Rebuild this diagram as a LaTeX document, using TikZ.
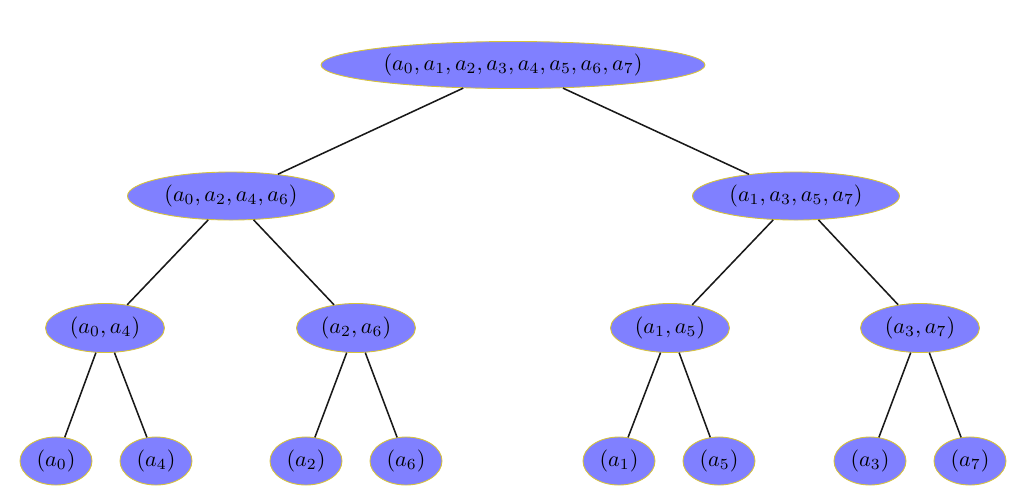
\documentclass[tikz,border=0pt]{standalone}
\usetikzlibrary{shapes.geometric}
\begin{document}
\begin{tikzpicture}[x=0.0159cm,y=-0.0159cm,
  nd/.style={ellipse,fill={rgb,255:red,128;green,128;blue,255},draw={rgb,255:red,215;green,195;blue,60},line width=0.4pt,inner sep=0pt,font=\normalsize},
  l0/.style={nd,minimum width=384*0.0159cm,minimum height=47*0.0159cm},
  l1/.style={nd,minimum width=207*0.0159cm,minimum height=48*0.0159cm},
  l2/.style={nd,minimum width=119*0.0159cm,minimum height=49*0.0159cm},
  l3/.style={nd,minimum width=72*0.0159cm,minimum height=48*0.0159cm},
  edge/.style={draw=black!90,line width=0.7pt}]
\useasboundingbox (0,0) rectangle (1013,488);
\node[l0] (r) at (513,65) {$(a_0,a_1,a_2,a_3,a_4,a_5,a_6,a_7)$};
\node[l1] (L) at (231,196) {$(a_0,a_2,a_4,a_6)$};
\node[l1] (R) at (796,196) {$(a_1,a_3,a_5,a_7)$};
\node[l2] (LL) at (105,328) {$(a_0,a_4)$};
\node[l2] (LR) at (356,328) {$(a_2,a_6)$};
\node[l2] (RL) at (670,328) {$(a_1,a_5)$};
\node[l2] (RR) at (920,328) {$(a_3,a_7)$};
\node[l3] (n0) at (56,461) {$(a_0)$};
\node[l3] (n4) at (156,461) {$(a_4)$};
\node[l3] (n2) at (306,461) {$(a_2)$};
\node[l3] (n6) at (406,461) {$(a_6)$};
\node[l3] (n1) at (619,461) {$(a_1)$};
\node[l3] (n5) at (719,461) {$(a_5)$};
\node[l3] (n3) at (870,461) {$(a_3)$};
\node[l3] (n7) at (970,461) {$(a_7)$};
\draw[edge] (r) -- (L);
\draw[edge] (r) -- (R);
\draw[edge] (L) -- (LL);
\draw[edge] (L) -- (LR);
\draw[edge] (R) -- (RL);
\draw[edge] (R) -- (RR);
\draw[edge] (LL) -- (n0);
\draw[edge] (LL) -- (n4);
\draw[edge] (LR) -- (n2);
\draw[edge] (LR) -- (n6);
\draw[edge] (RL) -- (n1);
\draw[edge] (RL) -- (n5);
\draw[edge] (RR) -- (n3);
\draw[edge] (RR) -- (n7);
\end{tikzpicture}
\end{document}
